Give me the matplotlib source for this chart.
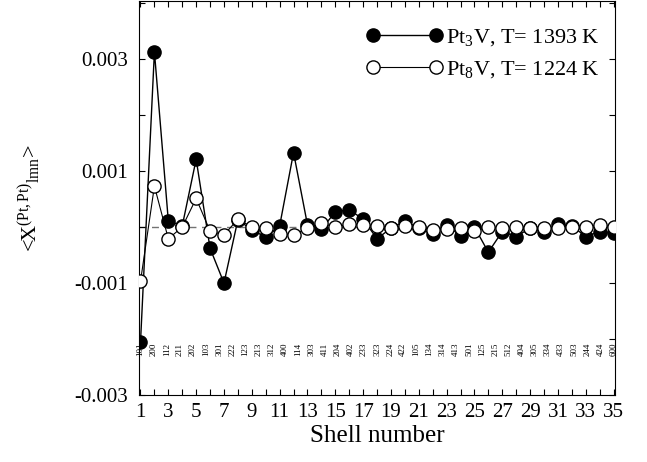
import numpy as np
import matplotlib
matplotlib.use("Agg")
import matplotlib.pyplot as plt

plt.rcParams['font.family'] = ['Liberation Serif', 'DejaVu Serif']
plt.rcParams['mathtext.fontset'] = 'custom'
plt.rcParams['mathtext.rm'] = 'Liberation Serif'
plt.rcParams['mathtext.it'] = 'Liberation Serif:italic'
plt.rcParams['mathtext.bf'] = 'Liberation Serif:bold'

shells = np.arange(1, 36)
pt3v = [-0.00206, 0.00313, 0.00011, 0.00002, 0.00121, -0.00038, -0.00100, 0.00013,
        -0.00005, -0.00018, 0.00002, 0.00133, 0.00004, -0.00004, 0.00027, 0.00031,
        0.00014, -0.00021, -0.00002, 0.00011, -0.00002, -0.00013, 0.00004, -0.00016,
        0.00000, -0.00045, -0.00008, -0.00017, -0.00002, -0.00008, 0.00005, 0.00002,
        -0.00017, -0.00008, -0.00011]
pt8v = [-0.00097, 0.00073, -0.00021, 0.00000, 0.00051, -0.00007, -0.00014, 0.00014,
        0.00000, -0.00002, -0.00012, -0.00014, -0.00002, 0.00007, 0.00000, 0.00005,
        0.00004, 0.00002, -0.00002, 0.00002, 0.00000, -0.00005, -0.00004, -0.00002,
        -0.00007, 0.00000, -0.00002, 0.00000, -0.00002, -0.00002, -0.00002, 0.00000,
        0.00000, 0.00004, 0.00000]
shell_labels = ['101', '200', '112', '211', '202', '103', '301', '222', '123', '213',
                '312', '400', '114', '303', '411', '204', '402', '233', '323', '224',
                '422', '105', '134', '314', '413', '501', '125', '215', '512', '404',
                '305', '334', '433', '503', '244', '424', '600']
label1 = r'Pt$_3$V, T= 1393 K'
label2 = r'Pt$_8$V, T= 1224 K'

fig = plt.figure(figsize=(6.47, 4.62), dpi=100)
ax = fig.add_axes([0.215, 0.145, 0.7355, 0.852])

ax.axhline(0, color='0.45', lw=1.0, ls=(0, (5, 4)), zorder=1)
ax.plot(shells, pt3v, '-o', color='black', lw=1.0, ms=9.5, mfc='black', mec='black',
        zorder=3, label=label1)
ax.plot(shells, pt8v, '-o', color='black', lw=0.8, ms=9.5, mfc='white', mec='black',
        mew=1.0, zorder=4, label=label2)

lab_x = np.linspace(1, 35, len(shell_labels))
for xx, t in zip(lab_x, shell_labels):
    ax.text(xx, -0.00218, t, rotation=90, fontsize=6.5, ha='center', va='center',
            zorder=2)

ax.set_xlim(0.9, 35.1)
ax.set_ylim(-0.003, 0.00403)
ax.set_xticks(np.arange(1, 36, 2))
ax.set_xticks(np.arange(2, 35, 2), minor=True)
ax.set_yticks([-0.003, -0.001, 0.001, 0.003])
ax.set_yticklabels(['-0.003', '-0.001', '0.001', '0.003'])
ax.set_yticks([-0.002, 0.0, 0.002, 0.004], minor=True)
ax.tick_params(which='both', direction='in', top=True, right=True, length=4,
               width=0.8, labelsize=15)
ax.tick_params(axis='x', pad=6)
ax.tick_params(axis='y', pad=8)

ax.set_xlabel('Shell number', fontsize=18, labelpad=2)
ax.set_ylabel(r'<X$^{(\mathrm{Pt,Pt})}{}_{\mathrm{lmn}}$>', fontsize=16, labelpad=22)

ax.legend(loc='upper right', frameon=False, fontsize=16, numpoints=2,
          handlelength=3.4, handletextpad=0.15, borderaxespad=0.3, labelspacing=0.5,
          bbox_to_anchor=(1.0, 0.975))

fig.savefig('out.png', dpi=100)
